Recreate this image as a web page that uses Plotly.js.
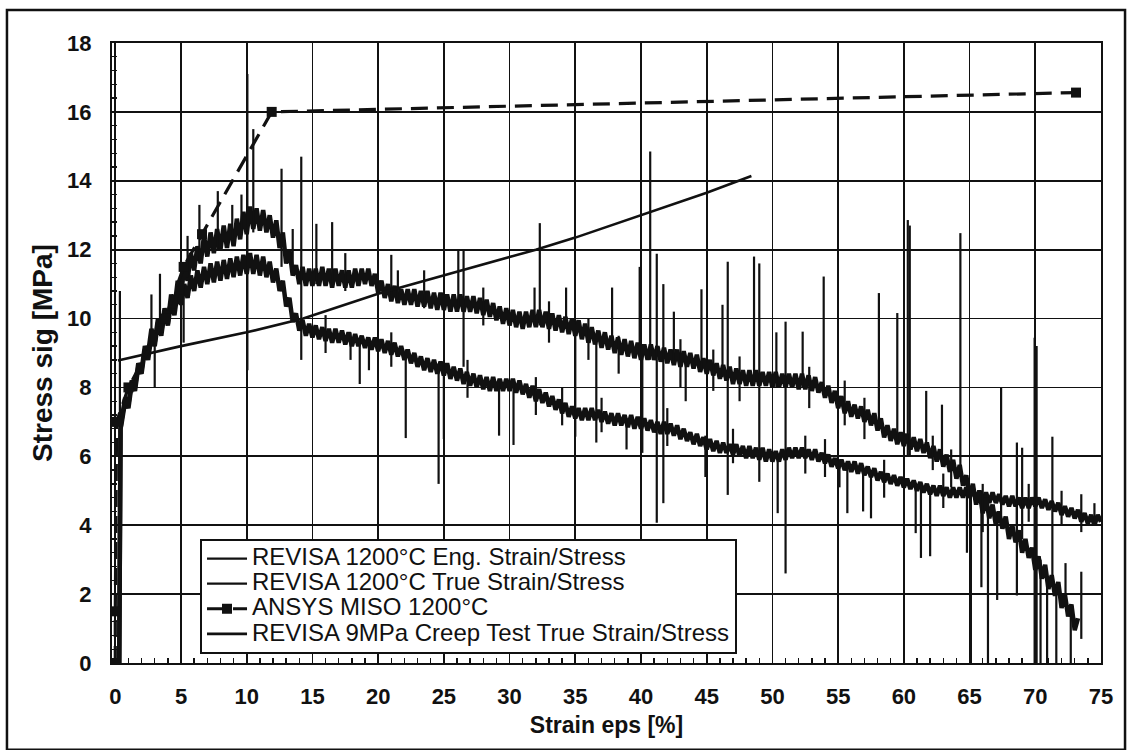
<!DOCTYPE html>
<html>
<head>
<meta charset="utf-8">
<script src="https://cdn.plot.ly/plotly-3.0.1.min.js"></script>
<style>
  html, body { margin: 0; padding: 0; background: #ffffff; }
  #chart { width: 1134px; height: 750px; }
</style>
</head>
<body>
<div id="chart"></div>
<script>
// ---------------- DATA ----------------
// common strain sampling of the two measured REVISA curves [%]
const strainGrid = [
  0.5, 0.75, 1, 1.25, 1.5, 1.75, 2, 2.25, 2.5, 2.75, 3, 3.25, 3.5, 3.75, 4, 4.25, 4.5, 4.75,
  5, 5.25, 5.5, 5.75, 6, 6.25, 6.5, 6.75, 7, 7.25, 7.5, 7.75, 8, 8.25, 8.5, 8.75, 9, 9.25, 9.5, 9.75,
  10, 10.25, 10.5, 10.75, 11, 11.25, 11.5, 11.75, 12, 12.25, 12.5, 12.75, 13, 13.25, 13.5, 13.75, 14, 14.25, 14.5, 14.75,
  15, 15.25, 15.5, 15.75, 16, 16.25, 16.5, 16.75, 17, 17.25, 17.5, 17.75, 18, 18.25, 18.5, 18.75, 19, 19.25, 19.5, 19.75,
  20, 20.25, 20.5, 20.75, 21, 21.25, 21.5, 21.75, 22, 22.25, 22.5, 22.75, 23, 23.25, 23.5, 23.75, 24, 24.25, 24.5, 24.75,
  25, 25.25, 25.5, 25.75, 26, 26.25, 26.5, 26.75, 27, 27.25, 27.5, 27.75, 28, 28.25, 28.5, 28.75, 29, 29.25, 29.5, 29.75,
  30, 30.25, 30.5, 30.75, 31, 31.25, 31.5, 31.75, 32, 32.25, 32.5, 32.75, 33, 33.25, 33.5, 33.75, 34, 34.25, 34.5, 34.75,
  35, 35.25, 35.5, 35.75, 36, 36.25, 36.5, 36.75, 37, 37.25, 37.5, 37.75, 38, 38.25, 38.5, 38.75, 39, 39.25, 39.5, 39.75,
  40, 40.25, 40.5, 40.75, 41, 41.25, 41.5, 41.75, 42, 42.25, 42.5, 42.75, 43, 43.25, 43.5, 43.75, 44, 44.25, 44.5, 44.75,
  45, 45.25, 45.5, 45.75, 46, 46.25, 46.5, 46.75, 47, 47.25, 47.5, 47.75, 48, 48.25, 48.5, 48.75, 49, 49.25, 49.5, 49.75,
  50, 50.25, 50.5, 50.75, 51, 51.25, 51.5, 51.75, 52, 52.25, 52.5, 52.75, 53, 53.25, 53.5, 53.75, 54, 54.25, 54.5, 54.75,
  55, 55.25, 55.5, 55.75, 56, 56.25, 56.5, 56.75, 57, 57.25, 57.5, 57.75, 58, 58.25, 58.5, 58.75, 59, 59.25, 59.5, 59.75,
  60, 60.25, 60.5, 60.75, 61, 61.25, 61.5, 61.75, 62, 62.25, 62.5, 62.75, 63, 63.25, 63.5, 63.75, 64, 64.25, 64.5, 64.75,
  65, 65.25, 65.5, 65.75, 66, 66.25, 66.5, 66.75, 67, 67.25, 67.5, 67.75, 68, 68.25, 68.5, 68.75, 69, 69.25, 69.5, 69.75,
  70, 70.25, 70.5, 70.75, 71, 71.25, 71.5, 71.75, 72, 72.25, 72.5, 72.75, 73, 73.25, 73.5, 73.75, 74, 74.25, 74.5, 74.75,
  75];

// initial (elastic) rise shared by both measured curves
const riseStrain = [0.3, 0.35, 0.4];
const riseStress = [0, 3.5, 6.8];

// REVISA 1200°C True Strain/Stress — noisy band, values at strainGrid (0.5 … 73.25)
const trueBandStress = [
  7.1, 7.7, 7.5, 8.2, 8.0, 8.7, 8.5, 9.2, 9.0, 9.7, 9.3, 10.0, 9.6, 10.3, 9.9, 10.7, 10.3, 11.1,
  10.7, 11.5, 11.1, 11.9, 11.4, 12.1, 11.6, 12.4, 11.8, 12.5, 11.9, 12.6, 12.0, 12.7, 12.05, 12.75, 12.1, 12.9, 12.3, 13.1,
  12.45, 13.25, 12.6, 13.2, 12.55, 13.15, 12.5, 13.0, 12.35, 12.85, 12.05, 12.5, 11.6, 12.0, 11.25, 11.55, 11.0, 11.5, 10.95, 11.45,
  10.95, 11.45, 10.95, 11.5, 10.95, 11.45, 10.9, 11.45, 10.95, 11.4, 10.9, 11.4, 10.9, 11.45, 10.95, 11.45, 11.0, 11.45, 10.95, 11.3,
  10.75, 11.1, 10.6, 11.0, 10.5, 10.95, 10.45, 10.85, 10.4, 10.85, 10.4, 10.85, 10.35, 10.8, 10.35, 10.8, 10.3, 10.75, 10.25, 10.75,
  10.25, 10.7, 10.2, 10.7, 10.2, 10.7, 10.2, 10.65, 10.2, 10.65, 10.15, 10.6, 10.1, 10.55, 10.05, 10.45, 9.95, 10.35, 9.85, 10.3,
  9.8, 10.25, 9.75, 10.2, 9.7, 10.2, 9.75, 10.25, 9.75, 10.25, 9.75, 10.2, 9.7, 10.15, 9.65, 10.1, 9.6, 10.05, 9.55, 10.0,
  9.5, 9.95, 9.4, 9.85, 9.3, 9.75, 9.25, 9.65, 9.15, 9.6, 9.1, 9.5, 9.0, 9.45, 8.95, 9.4, 8.9, 9.35, 8.85, 9.3,
  8.8, 9.25, 8.8, 9.25, 8.8, 9.2, 8.75, 9.15, 8.7, 9.1, 8.65, 9.1, 8.6, 9.05, 8.6, 9.0, 8.55, 8.95, 8.45, 8.85,
  8.4, 8.8, 8.35, 8.7, 8.25, 8.65, 8.2, 8.6, 8.1, 8.55, 8.1, 8.5, 8.05, 8.5, 8.05, 8.5, 8.05, 8.45, 8.05, 8.45,
  8.0, 8.45, 8.0, 8.4, 8.0, 8.4, 8.0, 8.4, 7.95, 8.4, 7.95, 8.35, 7.9, 8.3, 7.85, 8.15, 7.7, 8.05, 7.55, 7.9,
  7.4, 7.75, 7.25, 7.6, 7.15, 7.5, 7.1, 7.45, 7.0, 7.35, 6.9, 7.25, 6.75, 7.1, 6.55, 6.9, 6.45, 6.8, 6.35, 6.7,
  6.3, 6.65, 6.2, 6.55, 6.15, 6.5, 6.1, 6.4, 5.95, 6.3, 5.85, 6.2, 5.7, 6.05, 5.55, 5.9, 5.35, 5.75, 5.15, 5.45,
  4.8, 5.2, 4.6, 5.0, 4.35, 4.8, 4.2, 4.6, 4.0, 4.4, 3.9, 4.25, 3.6, 4.0, 3.5, 3.85, 3.2, 3.6, 3.05, 3.35,
  2.7, 3.1, 2.45, 2.85, 2.15, 2.55, 1.95, 2.35, 1.6, 2.0, 1.35, 1.7, 0.95, 1.3];

// REVISA 1200°C Eng. Strain/Stress — noisy band, values at strainGrid (0.5 … 75)
const engBandStress = [
  7.0, 7.6, 7.4, 8.1, 7.9, 8.6, 8.4, 9.1, 8.8, 9.5, 9.2, 9.9, 9.5, 10.2, 9.8, 10.5, 10.1, 10.8,
  10.4, 11.0, 10.6, 11.25, 10.8, 11.4, 10.9, 11.5, 11.0, 11.6, 11.05, 11.65, 11.1, 11.7, 11.15, 11.75, 11.2, 11.8, 11.25, 11.85,
  11.3, 11.9, 11.3, 11.85, 11.25, 11.8, 11.2, 11.65, 11.05, 11.45, 10.8, 11.1, 10.35, 10.6, 9.9, 10.15, 9.65, 9.95, 9.5, 9.85,
  9.45, 9.8, 9.4, 9.75, 9.35, 9.7, 9.3, 9.7, 9.3, 9.65, 9.25, 9.6, 9.2, 9.55, 9.2, 9.5, 9.15, 9.45, 9.1, 9.45,
  9.05, 9.4, 9.0, 9.35, 8.95, 9.3, 8.9, 9.2, 8.8, 9.1, 8.7, 9.0, 8.6, 8.9, 8.5, 8.85, 8.45, 8.8, 8.4, 8.75,
  8.35, 8.7, 8.25, 8.6, 8.2, 8.55, 8.1, 8.45, 8.05, 8.4, 8.0, 8.35, 7.95, 8.3, 7.9, 8.3, 7.9, 8.25, 7.9, 8.25,
  7.9, 8.25, 7.85, 8.2, 7.8, 8.1, 7.7, 8.05, 7.6, 7.95, 7.55, 7.85, 7.45, 7.75, 7.35, 7.65, 7.25, 7.55, 7.15, 7.45,
  7.1, 7.4, 7.05, 7.4, 7.05, 7.4, 7.05, 7.35, 7.0, 7.3, 6.95, 7.25, 6.9, 7.25, 6.9, 7.2, 6.85, 7.2, 6.8, 7.15,
  6.8, 7.1, 6.75, 7.05, 6.7, 7.0, 6.65, 7.0, 6.65, 6.95, 6.6, 6.9, 6.5, 6.8, 6.45, 6.7, 6.35, 6.65, 6.3, 6.55,
  6.2, 6.5, 6.15, 6.45, 6.1, 6.4, 6.1, 6.35, 6.05, 6.35, 6.0, 6.3, 5.95, 6.3, 5.95, 6.25, 5.9, 6.25, 5.85, 6.2,
  5.85, 6.15, 5.85, 6.2, 5.9, 6.25, 5.95, 6.25, 5.95, 6.25, 5.95, 6.2, 5.9, 6.2, 5.85, 6.1, 5.8, 6.05, 5.7, 5.95,
  5.65, 5.9, 5.6, 5.85, 5.55, 5.85, 5.5, 5.8, 5.45, 5.7, 5.4, 5.65, 5.3, 5.55, 5.25, 5.5, 5.2, 5.45, 5.15, 5.4,
  5.1, 5.35, 5.05, 5.3, 5.0, 5.25, 4.95, 5.2, 4.9, 5.15, 4.85, 5.15, 4.85, 5.1, 4.8, 5.1, 4.8, 5.1, 4.8, 5.1,
  4.8, 5.05, 4.75, 5.0, 4.7, 4.95, 4.65, 4.95, 4.65, 4.9, 4.6, 4.85, 4.55, 4.85, 4.55, 4.8, 4.5, 4.8, 4.5, 4.8,
  4.55, 4.8, 4.5, 4.75, 4.45, 4.7, 4.4, 4.65, 4.3, 4.55, 4.25, 4.5, 4.2, 4.45, 4.1, 4.35, 4.05, 4.3, 4.0, 4.3,
  4.1];

// spikes of the True curve: strain, lowest and highest stress of each spike
const trueSpikeStrain = [0.35, 2.75, 3.4, 5.5, 6.4, 7.8, 8.9, 9.6, 10.05, 10.5, 12.65, 13.5, 14.15, 15.3, 16.5, 17.5,
  21.0, 21.5, 23.5, 26.1, 26.5, 28.0, 31.9, 32.3, 33.0, 34.3, 36.0, 37.8, 38.3, 39.9, 40.7, 41.2, 41.7, 42.5, 43.0,
  44.6, 45.5, 46.2, 46.6, 47.5, 48.6, 49.0, 50.3, 51.0, 52.3, 52.8, 53.9, 55.5, 57.0, 58.1, 59.5, 60.3, 60.45,
  61.7, 62.2, 62.9, 63.6, 64.3, 66.0, 67.4, 68.6, 69.0, 69.95, 70.1, 70.4, 70.9, 71.3, 71.6, 72.3, 72.7, 73.5];
const trueSpikeLow = [6.7, 9.3, 9.7, 11.2, 11.6, 12.0, 12.2, 12.5, 8.5, 12.5, 11.5, 11.5, 8.8, 11.0, 11.0, 10.8,
  10.6, 10.5, 10.3, 10.3, 8.6, 9.8, 9.8, 9.8, 9.3, 9.7, 8.8, 9.2, 8.4, 9.0, 8.8, 4.07, 4.64, 8.7, 8.0,
  8.5, 7.9, 8.3, 4.88, 7.6, 8.1, 5.26, 8.0, 2.6, 8.0, 7.4, 7.8, 6.9, 6.5, 6.8, 6.4, 6.0, 6.0,
  6.2, 5.6, 6.0, 5.1, 5.5, 3.8, 4.3, 3.9, 3.6, 0, 0, 0, 0, 2.4, 0, 1.8, 0, 0.7];
const trueSpikeHigh = [10.8, 10.7, 11.3, 12.4, 13.3, 13.7, 13.3, 13.6, 17.1, 15.5, 14.35, 12.6, 14.7, 12.75, 12.8, 11.9,
  11.85, 11.4, 11.4, 12.0, 12.0, 10.9, 10.9, 12.77, 10.5, 10.9, 10.0, 10.9, 9.5, 11.5, 14.85, 11.88, 11.0, 10.2, 9.4,
  10.85, 9.1, 10.4, 11.65, 8.9, 11.8, 11.6, 9.6, 9.91, 9.62, 8.6, 11.22, 8.2, 7.7, 10.74, 10.16, 12.86, 12.7,
  7.9, 6.6, 7.5, 6.2, 12.48, 5.2, 8.0, 6.4, 6.25, 9.44, 9.2, 3.0, 2.5, 6.57, 2.2, 2.9, 1.6, 2.65];

// spikes of the Eng. curve
const engSpikeStrain = [3.0, 5.2, 16.0, 17.9, 18.6, 19.3, 21.0, 22.1, 24.6, 25.0, 26.8, 29.2, 30.3, 32.0, 34.0,
  35.0, 36.6, 37.0, 38.9, 40.1, 42.0, 43.4, 44.9, 47.0, 50.4, 52.5, 54.0, 55.1, 55.7, 56.9, 57.5, 58.5,
  60.9, 61.3, 62.0, 63.0, 64.8, 65.1, 65.9, 66.4, 67.1, 68.6, 69.5, 72.0, 73.5, 74.5];
const engSpikeLow = [8.0, 9.3, 9.0, 8.8, 8.1, 8.5, 8.6, 6.53, 5.2, 6.5, 7.7, 6.6, 6.33, 7.2, 6.9,
  6.57, 6.4, 6.7, 6.2, 6.1, 6.3, 7.6, 5.4, 5.8, 4.35, 5.5, 5.4, 5.1, 4.35, 4.4, 4.2, 4.8,
  3.77, 3.05, 3.1, 4.5, 3.2, 0, 2.2, 0, 1.83, 1.96, 4.1, 4.0, 3.8, 4.1];
const engSpikeHigh = [9.6, 11.0, 10.1, 9.6, 9.4, 9.3, 9.6, 9.1, 8.7, 8.6, 8.8, 8.1, 8.1, 8.3, 8.0,
  9.8, 9.4, 7.7, 7.1, 9.0, 7.4, 8.8, 6.6, 6.8, 6.0, 6.6, 6.5, 5.9, 5.75, 5.55, 5.55, 5.9,
  5.15, 5.15, 5.05, 5.5, 5.0, 4.9, 4.9, 4.8, 4.4, 4.7, 5.2, 5.0, 4.9, 4.64];

// ANSYS MISO 1200°C (multilinear curve points)
const misoStrain = [0, 0, 0.1, 1, 3.8, 5.2, 6.6, 11.9, 73.1];
const misoStress = [0, 1.5, 7, 8, 10, 11.5, 12.45, 16, 16.56];

// REVISA 9MPa Creep Test True Strain/Stress
const creepStrain = [0.2, 5, 10, 14.3, 20, 26, 32, 35, 40, 45, 48.4];
const creepStress = [8.78, 9.2, 9.6, 10.0, 10.72, 11.36, 12.0, 12.35, 13.0, 13.65, 14.14];

// axis ticks
const xTicks = [0, 5, 10, 15, 20, 25, 30, 35, 40, 45, 50, 55, 60, 65, 70, 75];
const yTicks = [0, 2, 4, 6, 8, 10, 12, 14, 16, 18];

const NAMES = {
  eng: 'REVISA 1200°C Eng. Strain/Stress',
  tru: 'REVISA 1200°C True Strain/Stress',
  miso: 'ANSYS MISO 1200°C',
  creep: 'REVISA 9MPa Creep Test True Strain/Stress'
};

// ---------------- BUILD ----------------
function spikeXY(s, lo, hi) {
  const x = [], y = [];
  for (let i = 0; i < s.length; i++) {
    x.push(s[i], s[i], null);
    y.push(lo[i], hi[i], null);
  }
  return {x, y};
}
const tSp = spikeXY(trueSpikeStrain, trueSpikeLow, trueSpikeHigh);
const eSp = spikeXY(engSpikeStrain, engSpikeLow, engSpikeHigh);

const trueX = riseStrain.concat(strainGrid.slice(0, trueBandStress.length));
const trueY = riseStress.concat(trueBandStress);
const engX = riseStrain.concat(strainGrid.slice(0, engBandStress.length));
const engY = riseStress.concat(engBandStress);

const INK = '#111111';
const FONT = 'Liberation Sans, Arial, Helvetica, sans-serif';
const legName = s => '<span style="font-size:24px">' + s + '</span>';

const traces = [
  // Eng band
  {x: engX, y: engY, type: 'scatter', mode: 'lines', legendgroup: 'eng', showlegend: false,
   line: {color: INK, width: 4.5, simplify: false}, hoverinfo: 'skip'},
  {x: eSp.x, y: eSp.y, type: 'scatter', mode: 'lines', name: legName(NAMES.eng), legendgroup: 'eng', legendrank: 1,
   line: {color: INK, width: 2.2}, connectgaps: false},
  // True band
  {x: trueX, y: trueY, type: 'scatter', mode: 'lines', legendgroup: 'tru', showlegend: false,
   line: {color: INK, width: 4.5, simplify: false}, hoverinfo: 'skip'},
  {x: tSp.x, y: tSp.y, type: 'scatter', mode: 'lines', name: legName(NAMES.tru), legendgroup: 'tru', legendrank: 2,
   line: {color: INK, width: 2.2}, connectgaps: false},
  // Creep
  {x: creepStrain, y: creepStress, type: 'scatter', mode: 'lines', name: legName(NAMES.creep), legendrank: 4,
   line: {color: INK, width: 2.6}},
  // ANSYS
  {x: misoStrain, y: misoStress, type: 'scatter', mode: 'lines+markers', name: legName(NAMES.miso), legendrank: 3,
   line: {color: INK, width: 3.2, dash: '17px,9px'},
   marker: {symbol: 'square', size: 10, color: INK}}
];

const axisCommon = {
  showline: true, linecolor: INK, linewidth: 2, mirror: true,
  showgrid: true, gridcolor: INK, gridwidth: 1.8,
  zeroline: false,
  ticks: 'inside', ticklen: 5, tickwidth: 1.5, tickcolor: INK,
  tickfont: {family: FONT, size: 22, color: INK, weight: 'bold'},
  fixedrange: true
};

const layout = {
  width: 1134, height: 750,
  margin: {l: 112, r: 33, t: 43, b: 87, pad: 0},
  paper_bgcolor: '#ffffff', plot_bgcolor: '#ffffff',
  font: {family: FONT, color: INK},
  showlegend: true,
  legend: {
    x: 0.089, y: 0.0145, xanchor: 'left', yanchor: 'bottom',
    bgcolor: '#ffffff', bordercolor: INK, borderwidth: 2,
    font: {family: FONT, size: 17, color: INK},
    traceorder: 'normal', itemwidth: 40, tracegroupgap: 0
  },
  xaxis: Object.assign({}, axisCommon, {
    range: [-0.25, 75],
    tickmode: 'array', tickvals: xTicks, ticktext: xTicks.map(String),
    ticklabelstandoff: 13,
    minor: {dtick: 1, tick0: 0, ticks: 'inside', ticklen: 5, tickwidth: 1.3, tickcolor: INK, showgrid: false},
    title: {text: 'Strain eps [%]', font: {family: FONT, size: 23, color: INK, weight: 'bold'}, standoff: 8}
  }),
  yaxis: Object.assign({}, axisCommon, {
    range: [0, 18],
    tickmode: 'array', tickvals: yTicks, ticktext: yTicks.map(String),
    ticklabelstandoff: 14,
    minor: {dtick: 0.4, tick0: 0, ticks: 'inside', ticklen: 5, tickwidth: 1.3, tickcolor: INK, showgrid: false},
    title: {text: 'Stress sig [MPa]', font: {family: FONT, size: 28, color: INK, weight: 'bold'}, standoff: 6}
  }),
  shapes: [
    {type: 'rect', xref: 'paper', yref: 'paper', x0: -0.1062, x1: 1.0243, y0: -0.14, y1: 1.0532,
     line: {color: INK, width: 2.5}, fillcolor: 'rgba(0,0,0,0)', layer: 'below'}
  ]
};

Plotly.newPlot('chart', traces, layout, {displayModeBar: false, staticPlot: true});
</script>
</body>
</html>
